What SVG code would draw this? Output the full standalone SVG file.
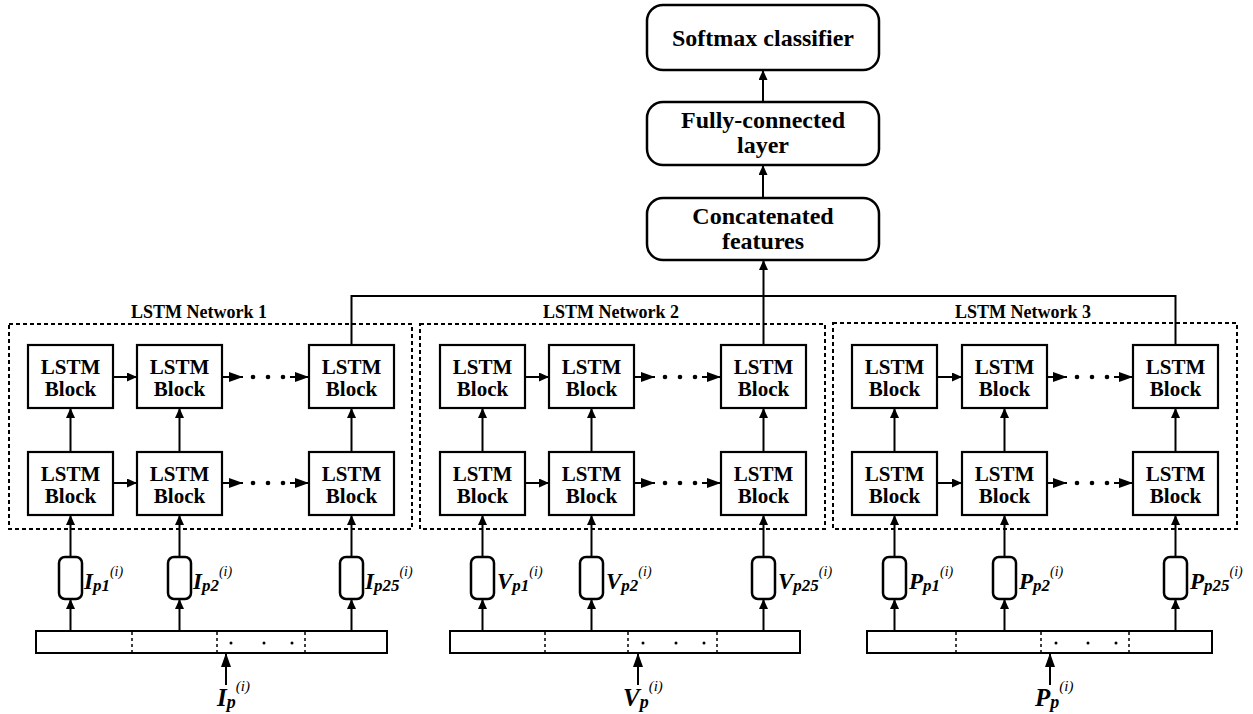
<svg xmlns="http://www.w3.org/2000/svg" width="1253" height="714" viewBox="0 0 1253 714">
<style>
text{font-family:"Liberation Serif","Times New Roman",serif;fill:#000}
.box{fill:#fff;stroke:#000;stroke-width:2.5}
.blk{fill:#fff;stroke:#000;stroke-width:2.2}
.cap{fill:#fff;stroke:#000;stroke-width:2.5}
.dash{fill:none;stroke:#000;stroke-width:2;stroke-dasharray:4 3}
.bar{fill:#fff;stroke:#000;stroke-width:2}
.div{stroke:#000;stroke-width:1.5;stroke-dasharray:3 3}
.ln{fill:none;stroke:#000;stroke-width:2}
.ar{fill:none;stroke:#000;stroke-width:2;marker-end:url(#ah)}
.arb{fill:none;stroke:#000;stroke-width:2;marker-end:url(#ahb)}
.top{font-size:24px;font-weight:bold;text-anchor:middle}
.bt{font-size:21px;font-weight:bold;text-anchor:middle}
.nl{font-size:18px;font-weight:bold;text-anchor:middle}
.lb{font-size:23px;font-weight:bold;font-style:italic}
.sb{font-size:17px;font-weight:bold;font-style:italic}
.sp{font-size:14px;font-style:italic}
.ilb{font-size:25px;font-weight:bold;font-style:italic}
.isb{font-size:18px;font-weight:bold;font-style:italic}
.isp{font-size:15px;font-style:italic}
</style>
<defs>
<marker id="ah" markerUnits="userSpaceOnUse" markerWidth="10" markerHeight="9" refX="10" refY="4.5" orient="auto"><path d="M0,0 L10,4.5 L0,9 z" fill="#000"/></marker>
<marker id="ahb" markerUnits="userSpaceOnUse" markerWidth="14" markerHeight="10" refX="14" refY="5" orient="auto"><path d="M0,0 L14,5 L0,10 z" fill="#000"/></marker>
</defs>

<!-- top nodes -->
<g id="softmax"><rect class="box" x="647" y="5" width="232" height="65" rx="16"/><text class="top" x="763" y="46">Softmax classifier</text></g>
<g id="fully"><rect class="box" x="647" y="102" width="232" height="63" rx="16"/><text class="top" x="763" y="128">Fully-connected</text><text class="top" x="763" y="153">layer</text></g>
<g id="concat"><rect class="box" x="647" y="198" width="232" height="62" rx="16"/><text class="top" x="763" y="224">Concatenated</text><text class="top" x="763" y="249">features</text></g>

<g id="top-connectors">
<line class="ar" x1="763" y1="102" x2="763" y2="70"/>
<line class="ar" x1="763" y1="198" x2="763" y2="165"/>
<line class="ar" x1="763.5" y1="345" x2="763.5" y2="260"/>
<polyline class="ln" points="351.5,345 351.5,296 1175.5,296 1175.5,345"/>
</g>

<!-- Network 1 -->
<g id="network1">
<rect class="dash" x="9" y="324" width="403" height="205"/>
<text class="nl" x="199" y="318">LSTM Network 1</text>
<g id="n1-u1"><rect class="blk" x="28" y="345" width="85" height="63"/><text class="bt" x="70.5" y="374">LSTM</text><text class="bt" x="70.5" y="396">Block</text></g>
<g id="n1-u2"><rect class="blk" x="137" y="345" width="85" height="63"/><text class="bt" x="179.5" y="374">LSTM</text><text class="bt" x="179.5" y="396">Block</text></g>
<g id="n1-u3"><rect class="blk" x="309" y="345" width="85" height="63"/><text class="bt" x="351.5" y="374">LSTM</text><text class="bt" x="351.5" y="396">Block</text></g>
<g id="n1-l1"><rect class="blk" x="28" y="452" width="85" height="63"/><text class="bt" x="70.5" y="481">LSTM</text><text class="bt" x="70.5" y="503">Block</text></g>
<g id="n1-l2"><rect class="blk" x="137" y="452" width="85" height="63"/><text class="bt" x="179.5" y="481">LSTM</text><text class="bt" x="179.5" y="503">Block</text></g>
<g id="n1-l3"><rect class="blk" x="309" y="452" width="85" height="63"/><text class="bt" x="351.5" y="481">LSTM</text><text class="bt" x="351.5" y="503">Block</text></g>
<g id="n1-c1"><rect class="cap" x="59" y="557" width="23" height="42" rx="6"/><text x="84" y="589"><tspan class="lb">I</tspan><tspan class="sb" y="591">p1</tspan><tspan class="sp" y="576">(i)</tspan></text></g>
<g id="n1-c2"><rect class="cap" x="168" y="557" width="23" height="42" rx="6"/><text x="193" y="589"><tspan class="lb">I</tspan><tspan class="sb" y="591">p2</tspan><tspan class="sp" y="576">(i)</tspan></text></g>
<g id="n1-c3"><rect class="cap" x="340" y="557" width="23" height="42" rx="6"/><text x="365" y="589"><tspan class="lb">I</tspan><tspan class="sb" y="591">p25</tspan><tspan class="sp" y="576">(i)</tspan></text></g>
<g id="n1-bar"><rect class="bar" x="36" y="631" width="351" height="22"/>
<line class="div" x1="132" y1="632" x2="132" y2="652"/><line class="div" x1="217" y1="632" x2="217" y2="652"/><line class="div" x1="305" y1="632" x2="305" y2="652"/>
<circle cx="231" cy="643" r="1.5"/><circle cx="264" cy="643" r="1.5"/><circle cx="292" cy="643" r="1.5"/></g>
<g id="n1-input"><text x="217" y="706"><tspan class="ilb">I</tspan><tspan class="isb" y="708">p</tspan><tspan class="isp" y="691">(i)</tspan></text></g>
<g id="n1-connectors">
<line class="ar" x1="113" y1="377" x2="137" y2="377"/>
<line class="arb" x1="222" y1="377" x2="243" y2="377"/>
<circle cx="253" cy="377" r="2.3"/><circle cx="268" cy="377" r="2.3"/><circle cx="283" cy="377" r="2.3"/>
<line class="arb" x1="290" y1="377" x2="309" y2="377"/>
<line class="ar" x1="113" y1="483" x2="137" y2="483"/>
<line class="arb" x1="222" y1="483" x2="243" y2="483"/>
<circle cx="253" cy="483" r="2.3"/><circle cx="268" cy="483" r="2.3"/><circle cx="283" cy="483" r="2.3"/>
<line class="arb" x1="290" y1="483" x2="309" y2="483"/>
<line class="ar" x1="70.5" y1="452" x2="70.5" y2="408"/>
<line class="ar" x1="179.5" y1="452" x2="179.5" y2="408"/>
<line class="ar" x1="351.5" y1="452" x2="351.5" y2="408"/>
<line class="ar" x1="70.5" y1="557" x2="70.5" y2="515"/>
<line class="ar" x1="179.5" y1="557" x2="179.5" y2="515"/>
<line class="ar" x1="351.5" y1="557" x2="351.5" y2="515"/>
<line class="ar" x1="70.5" y1="631" x2="70.5" y2="599"/>
<line class="ar" x1="179.5" y1="631" x2="179.5" y2="599"/>
<line class="ar" x1="351.5" y1="631" x2="351.5" y2="599"/>
<line class="arb" x1="226" y1="685" x2="226" y2="653"/>
</g>
</g>

<!-- Network 2 -->
<g id="network2" transform="translate(412,0)">
<rect class="dash" x="8" y="324" width="405" height="205"/>
<text class="nl" x="199" y="318">LSTM Network 2</text>
<g id="n2-u1"><rect class="blk" x="28" y="345" width="85" height="63"/><text class="bt" x="70.5" y="374">LSTM</text><text class="bt" x="70.5" y="396">Block</text></g>
<g id="n2-u2"><rect class="blk" x="137" y="345" width="85" height="63"/><text class="bt" x="179.5" y="374">LSTM</text><text class="bt" x="179.5" y="396">Block</text></g>
<g id="n2-u3"><rect class="blk" x="309" y="345" width="85" height="63"/><text class="bt" x="351.5" y="374">LSTM</text><text class="bt" x="351.5" y="396">Block</text></g>
<g id="n2-l1"><rect class="blk" x="28" y="452" width="85" height="63"/><text class="bt" x="70.5" y="481">LSTM</text><text class="bt" x="70.5" y="503">Block</text></g>
<g id="n2-l2"><rect class="blk" x="137" y="452" width="85" height="63"/><text class="bt" x="179.5" y="481">LSTM</text><text class="bt" x="179.5" y="503">Block</text></g>
<g id="n2-l3"><rect class="blk" x="309" y="452" width="85" height="63"/><text class="bt" x="351.5" y="481">LSTM</text><text class="bt" x="351.5" y="503">Block</text></g>
<g id="n2-c1"><rect class="cap" x="59" y="557" width="23" height="42" rx="6"/><text x="85" y="589"><tspan class="lb">V</tspan><tspan class="sb" y="591">p1</tspan><tspan class="sp" y="576">(i)</tspan></text></g>
<g id="n2-c2"><rect class="cap" x="168" y="557" width="23" height="42" rx="6"/><text x="194" y="589"><tspan class="lb">V</tspan><tspan class="sb" y="591">p2</tspan><tspan class="sp" y="576">(i)</tspan></text></g>
<g id="n2-c3"><rect class="cap" x="340" y="557" width="23" height="42" rx="6"/><text x="366" y="589"><tspan class="lb">V</tspan><tspan class="sb" y="591">p25</tspan><tspan class="sp" y="576">(i)</tspan></text></g>
<g id="n2-bar"><rect class="bar" x="38" y="631" width="350" height="22"/>
<line class="div" x1="133" y1="632" x2="133" y2="652"/><line class="div" x1="216" y1="632" x2="216" y2="652"/><line class="div" x1="305" y1="632" x2="305" y2="652"/>
<circle cx="231" cy="643" r="1.5"/><circle cx="264" cy="643" r="1.5"/><circle cx="292" cy="643" r="1.5"/></g>
<g id="n2-input"><text x="211" y="706"><tspan class="ilb">V</tspan><tspan class="isb" y="708">p</tspan><tspan class="isp" y="691">(i)</tspan></text></g>
<g id="n2-connectors">
<line class="ar" x1="113" y1="377" x2="137" y2="377"/>
<line class="arb" x1="222" y1="377" x2="243" y2="377"/>
<circle cx="253" cy="377" r="2.3"/><circle cx="268" cy="377" r="2.3"/><circle cx="283" cy="377" r="2.3"/>
<line class="arb" x1="290" y1="377" x2="309" y2="377"/>
<line class="ar" x1="113" y1="483" x2="137" y2="483"/>
<line class="arb" x1="222" y1="483" x2="243" y2="483"/>
<circle cx="253" cy="483" r="2.3"/><circle cx="268" cy="483" r="2.3"/><circle cx="283" cy="483" r="2.3"/>
<line class="arb" x1="290" y1="483" x2="309" y2="483"/>
<line class="ar" x1="70.5" y1="452" x2="70.5" y2="408"/>
<line class="ar" x1="179.5" y1="452" x2="179.5" y2="408"/>
<line class="ar" x1="351.5" y1="452" x2="351.5" y2="408"/>
<line class="ar" x1="70.5" y1="557" x2="70.5" y2="515"/>
<line class="ar" x1="179.5" y1="557" x2="179.5" y2="515"/>
<line class="ar" x1="351.5" y1="557" x2="351.5" y2="515"/>
<line class="ar" x1="70.5" y1="631" x2="70.5" y2="599"/>
<line class="ar" x1="179.5" y1="631" x2="179.5" y2="599"/>
<line class="ar" x1="351.5" y1="631" x2="351.5" y2="599"/>
<line class="arb" x1="226" y1="685" x2="226" y2="653"/>
</g>
</g>

<!-- Network 3 -->
<g id="network3" transform="translate(824,0)">
<rect class="dash" x="9" y="323" width="404" height="206"/>
<text class="nl" x="199" y="318">LSTM Network 3</text>
<g id="n3-u1"><rect class="blk" x="28" y="345" width="85" height="63"/><text class="bt" x="70.5" y="374">LSTM</text><text class="bt" x="70.5" y="396">Block</text></g>
<g id="n3-u2"><rect class="blk" x="138" y="345" width="85" height="63"/><text class="bt" x="180.5" y="374">LSTM</text><text class="bt" x="180.5" y="396">Block</text></g>
<g id="n3-u3"><rect class="blk" x="309" y="345" width="85" height="63"/><text class="bt" x="351.5" y="374">LSTM</text><text class="bt" x="351.5" y="396">Block</text></g>
<g id="n3-l1"><rect class="blk" x="28" y="452" width="85" height="63"/><text class="bt" x="70.5" y="481">LSTM</text><text class="bt" x="70.5" y="503">Block</text></g>
<g id="n3-l2"><rect class="blk" x="138" y="452" width="85" height="63"/><text class="bt" x="180.5" y="481">LSTM</text><text class="bt" x="180.5" y="503">Block</text></g>
<g id="n3-l3"><rect class="blk" x="309" y="452" width="85" height="63"/><text class="bt" x="351.5" y="481">LSTM</text><text class="bt" x="351.5" y="503">Block</text></g>
<g id="n3-c1"><rect class="cap" x="59" y="557" width="23" height="42" rx="6"/><text x="85" y="589"><tspan class="lb">P</tspan><tspan class="sb" y="591">p1</tspan><tspan class="sp" y="576">(i)</tspan></text></g>
<g id="n3-c2"><rect class="cap" x="169" y="557" width="23" height="42" rx="6"/><text x="195" y="589"><tspan class="lb">P</tspan><tspan class="sb" y="591">p2</tspan><tspan class="sp" y="576">(i)</tspan></text></g>
<g id="n3-c3"><rect class="cap" x="340" y="557" width="23" height="42" rx="6"/><text x="366" y="589"><tspan class="lb">P</tspan><tspan class="sb" y="591">p25</tspan><tspan class="sp" y="576">(i)</tspan></text></g>
<g id="n3-bar"><rect class="bar" x="43" y="631" width="345" height="22"/>
<line class="div" x1="132" y1="632" x2="132" y2="652"/><line class="div" x1="217" y1="632" x2="217" y2="652"/><line class="div" x1="305" y1="632" x2="305" y2="652"/>
<circle cx="232" cy="643" r="1.5"/><circle cx="264" cy="643" r="1.5"/><circle cx="292" cy="643" r="1.5"/></g>
<g id="n3-input"><text x="211" y="706"><tspan class="ilb">P</tspan><tspan class="isb" y="708">p</tspan><tspan class="isp" y="691">(i)</tspan></text></g>
<g id="n3-connectors">
<line class="ar" x1="113" y1="377" x2="138" y2="377"/>
<line class="arb" x1="223" y1="377" x2="243" y2="377"/>
<circle cx="253" cy="377" r="2.3"/><circle cx="268" cy="377" r="2.3"/><circle cx="283" cy="377" r="2.3"/>
<line class="arb" x1="290" y1="377" x2="309" y2="377"/>
<line class="ar" x1="113" y1="483" x2="138" y2="483"/>
<line class="arb" x1="223" y1="483" x2="243" y2="483"/>
<circle cx="253" cy="483" r="2.3"/><circle cx="268" cy="483" r="2.3"/><circle cx="283" cy="483" r="2.3"/>
<line class="arb" x1="290" y1="483" x2="309" y2="483"/>
<line class="ar" x1="70.5" y1="452" x2="70.5" y2="408"/>
<line class="ar" x1="180.5" y1="452" x2="180.5" y2="408"/>
<line class="ar" x1="351.5" y1="452" x2="351.5" y2="408"/>
<line class="ar" x1="70.5" y1="557" x2="70.5" y2="515"/>
<line class="ar" x1="180.5" y1="557" x2="180.5" y2="515"/>
<line class="ar" x1="351.5" y1="557" x2="351.5" y2="515"/>
<line class="ar" x1="70.5" y1="631" x2="70.5" y2="599"/>
<line class="ar" x1="180.5" y1="631" x2="180.5" y2="599"/>
<line class="ar" x1="351.5" y1="631" x2="351.5" y2="599"/>
<line class="arb" x1="226" y1="685" x2="226" y2="653"/>
</g>
</g>
</svg>
